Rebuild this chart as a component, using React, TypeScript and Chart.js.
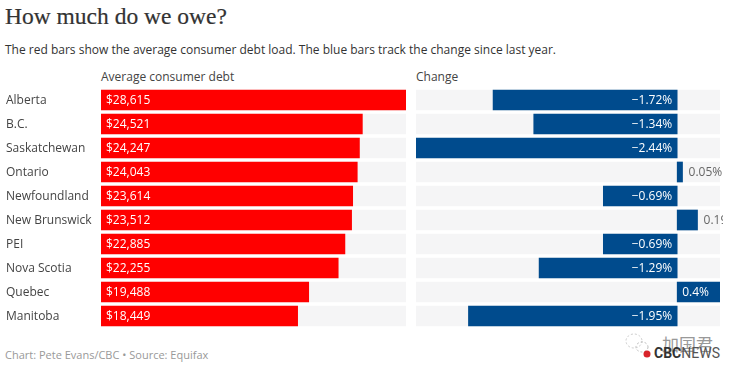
import React, { useEffect, useRef } from "react";
import { Chart, registerables } from "chart.js";

Chart.register(...registerables);

const provinces = ["Alberta", "B.C.", "Saskatchewan", "Ontario", "Newfoundland", "New Brunswick", "PEI", "Nova Scotia", "Quebec", "Manitoba"];
const debt = [28615, 24521, 24247, 24043, 23614, 23512, 22885, 22255, 19488, 18449];
const change = [-1.72, -1.34, -2.44, 0.05, -0.69, 0.19, -0.69, -1.29, 0.4, -1.95];

const FONT = '"Open Sans", sans-serif';
const RED = "#ff0000";
const BLUE = "#004b8d";
const TRACK = "#f5f5f6";

const valueLabels = (format: (v: number) => string, showCategories: boolean) => ({
  id: "valueLabels",
  afterDatasetsDraw(chart: any) {
    const { ctx } = chart;
    const meta = chart.getDatasetMeta(1);
    const values = chart.data.datasets[1].data as number[];
    const zero = chart.scales.x.getPixelForValue(0);
    ctx.save();
    ctx.textBaseline = "middle";
    meta.data.forEach((bar: any, i: number) => {
      const v = values[i];
      const inside = Math.abs(bar.x - zero) > 30;
      const y = bar.y + 1;
      ctx.font = `500 12px ${FONT}`;
      if (v < 0) {
        ctx.textAlign = "right";
        ctx.fillStyle = "#fff";
        ctx.fillText(format(v), zero - 5, y);
      } else if (inside) {
        ctx.textAlign = "left";
        ctx.fillStyle = "#fff";
        ctx.fillText(format(v), zero + 5, y);
      } else {
        ctx.font = `12px ${FONT}`;
        ctx.textAlign = "left";
        ctx.fillStyle = "#666";
        ctx.fillText(format(v), bar.x + 6, y);
      }
      if (showCategories) {
        ctx.font = `12px ${FONT}`;
        ctx.textAlign = "left";
        ctx.fillStyle = "#444";
        ctx.fillText(chart.data.labels[i], 6, y);
      }
    });
    ctx.restore();
  },
});

function makeChart(
  canvas: HTMLCanvasElement,
  values: number[],
  min: number,
  max: number,
  color: string,
  track: any[],
  format: (v: number) => string,
  showCategories: boolean,
  leftPad: number,
  rightPad: number
) {
  return new Chart(canvas, {
    type: "bar",
    data: {
      labels: provinces,
      datasets: [
        { data: track, backgroundColor: TRACK, grouped: false, order: 2, barThickness: 20 } as any,
        { data: values, backgroundColor: color, grouped: false, order: 1, barThickness: 20 } as any,
      ],
    },
    options: {
      indexAxis: "y",
      animation: false,
      responsive: false,
      layout: { padding: { left: leftPad, right: rightPad, top: 0, bottom: 0 } },
      plugins: { legend: { display: false }, tooltip: { enabled: false } },
      scales: {
        x: { display: false, min, max },
        y: { display: false },
      },
    },
    plugins: [valueLabels(format, showCategories)],
  } as any);
}

const money = (v: number) => "$" + v.toLocaleString("en-US");
const pct = (v: number) => (v < 0 ? "\u2212" : "") + Math.abs(v) + "%";

const text = (style: React.CSSProperties): React.CSSProperties => ({
  position: "absolute",
  whiteSpace: "nowrap",
  fontFamily: FONT,
  lineHeight: 1,
  ...style,
});

export default function App() {
  const left = useRef<HTMLCanvasElement>(null);
  const right = useRef<HTMLCanvasElement>(null);

  useEffect(() => {
    document.body.style.margin = "0";
    document.body.style.background = "#fff";
    const maxDebt = Math.max(...debt);
    const minCh = Math.min(...change);
    const maxCh = Math.max(...change);
    const a = makeChart(left.current!, debt, 0, maxDebt, RED, debt.map(() => maxDebt), money, true, 101, 0);
    const b = makeChart(right.current!, change, minCh, maxCh, BLUE, change.map(() => [minCh, maxCh]), pct, false, 0, 3);
    return () => {
      a.destroy();
      b.destroy();
    };
  }, []);

  return (
    <div style={{ position: "relative", width: 737, height: 376, overflow: "hidden", background: "#fff" }}>
      <div style={text({ left: 5, top: 5, fontFamily: '"Liberation Serif", serif', fontSize: 23.5, color: "#333", WebkitTextStroke: "0.2px #333" })}>How much do we owe?</div>
      <div style={text({ left: 5, top: 44, fontSize: 12, color: "#333" })}>
        The red bars show the average consumer debt load. The blue bars track the change since last year.
      </div>
      <div style={text({ left: 101, top: 71, fontSize: 12, color: "#444" })}>Average consumer debt</div>
      <div style={text({ left: 416, top: 71, fontSize: 12, color: "#444" })}>Change</div>
      <canvas ref={left} width={406} height={240} style={{ position: "absolute", left: 0, top: 88, width: 406, height: 240 }} />
      <canvas ref={right} width={307} height={240} style={{ position: "absolute", left: 416, top: 88, width: 307, height: 240 }} />
      <div style={text({ left: 5, top: 349, fontSize: 11, color: "#999" })}>Chart: Pete Evans/CBC • Source: Equifax</div>
      <svg width={30} height={30} style={{ position: "absolute", left: 624, top: 330 }}>
        <ellipse cx={10} cy={11} rx={8} ry={7} fill="none" stroke="#ccc" strokeDasharray="2 2" />
        <ellipse cx={18} cy={17} rx={6} ry={5} fill="none" stroke="#bbb" strokeDasharray="2 2" />
        <circle cx={23} cy={24} r={3.5} fill="#d8232a" />
      </svg>
      <div style={text({ left: 662, top: 335, fontFamily: '"Noto Sans CJK SC", sans-serif', fontSize: 17, color: "#999" })}>加国君</div>
      <div style={text({ left: 654, top: 346, fontFamily: "Roboto, sans-serif", fontSize: 14, fontWeight: 700, color: "#333" })}>
        CBC<span style={{ fontWeight: 400, color: "#555" }}>NEWS</span>
      </div>
    </div>
  );
}
